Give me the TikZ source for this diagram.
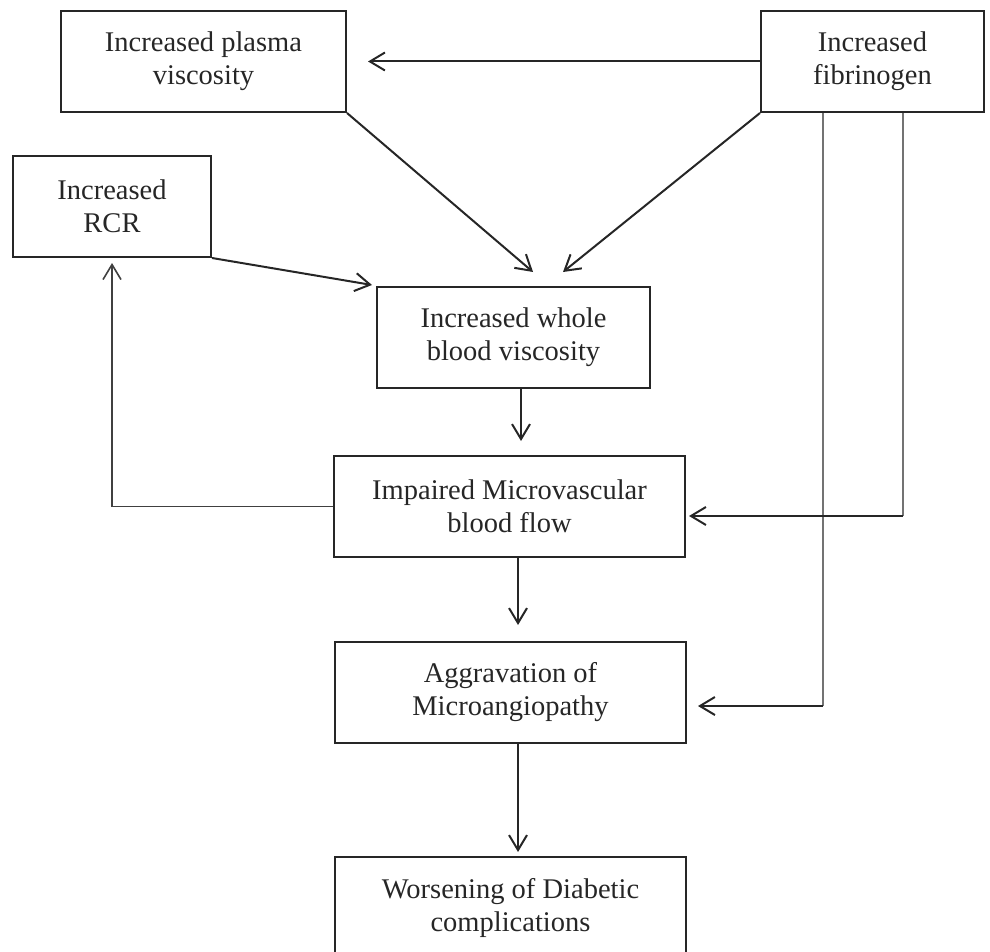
\documentclass[tikz,border=0pt]{standalone}
\usepackage{fontspec}
\setmainfont{Liberation Serif}
\usetikzlibrary{arrows.meta}
\begin{document}
\begin{tikzpicture}[x=1pt,y=-1pt,
  box/.style={draw=black!85,line width=2pt,align=center,inner sep=0pt,text=black!85,font=\fontsize{28.5}{33}\selectfont},
  arr/.style={draw=black!85,line width=2pt,-{Straight Barb[length=15pt,width=18pt]}},
  feed/.style={draw=black!55,line width=1.3pt}]
  \useasboundingbox (0,0) rectangle (990,952);
  \node[box,minimum width=285pt,minimum height=101pt] (plasma) at (203.5,61.5) {Increased plasma\\viscosity};
  \node[box,minimum width=223pt,minimum height=101pt] (fib) at (872.5,61.5) {Increased\\fibrinogen};
  \node[box,minimum width=198pt,minimum height=101pt] (rcr) at (112,206.5) {Increased\\RCR};
  \node[box,minimum width=273pt,minimum height=101pt] (whole) at (513.5,337.5) {Increased whole\\blood viscosity};
  \node[box,minimum width=351pt,minimum height=101pt] (impaired) at (509.5,506.5) {Impaired Microvascular\\blood flow};
  \node[box,minimum width=351pt,minimum height=101pt] (aggr) at (510.5,692.5) {Aggravation of\\Microangiopathy};
  \node[box,minimum width=351pt,minimum height=101pt] (worse) at (510.5,907.5) {Worsening of Diabetic\\complications};
  \draw[arr] (fib.west) -- ([xshift=21pt]plasma.east);
  \draw[arr] (plasma.south east) -- ([xshift=19.5pt,yshift=14pt]whole.north);
  \draw[arr] (fib.south west) -- ([xshift=49.5pt,yshift=14pt]whole.north);
  \draw[arr] (rcr.south east) -- ([xshift=-4pt,yshift=1pt]whole.north west);
  \draw[arr] ([xshift=7.5pt]whole.south) -- ([xshift=7.5pt,yshift=14pt]whole.south |- impaired.north);
  \draw[arr] ([xshift=8.5pt]impaired.south) -- ([xshift=8.5pt,yshift=16pt]impaired.south |- aggr.north);
  \draw[arr] ([xshift=7.5pt]aggr.south) -- ([xshift=7.5pt,yshift=4pt]aggr.south |- worse.north);
  \draw[arr,line width=1.6pt,draw=black!75,shorten >=5pt] (impaired.west) -| (rcr.south);
  \coordinate (kneeA) at ([xshift=30.5pt,yshift=-9.5pt]fib.south |- impaired.east);
  \coordinate (kneeB) at ([xshift=-49.5pt,yshift=-13.5pt]fib.south |- aggr.east);
  \draw[feed] ([xshift=30.5pt]fib.south) -- (kneeA);
  \draw[feed] ([xshift=-49.5pt]fib.south) -- (kneeB);
  \draw[arr] (kneeA) -- ([xshift=3pt]impaired.east |- kneeA);
  \draw[arr] (kneeB) -- ([xshift=11pt]aggr.east |- kneeB);
\end{tikzpicture}
\end{document}
